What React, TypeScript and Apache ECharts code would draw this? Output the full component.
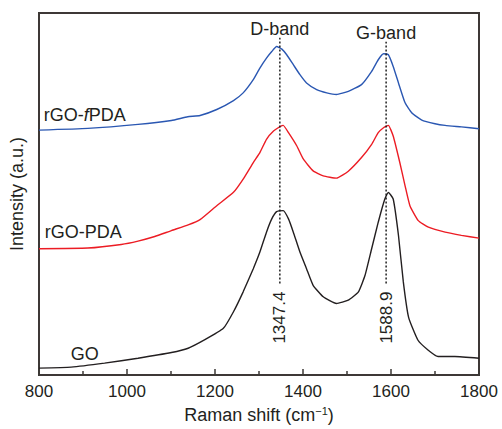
import { useEffect, useRef } from "react";
import * as echarts from "echarts";

// Raman shift (cm-1) and intensity (a.u., stacked offsets)
const fpdaShift = [800, 911, 1025, 1101, 1138, 1166, 1204, 1242, 1264, 1287, 1302, 1317, 1329, 1340, 1352, 1363, 1378, 1393, 1408, 1431, 1454, 1476, 1503, 1533, 1556, 1571, 1583, 1594, 1605, 1617, 1632, 1647, 1670, 1700, 1723, 1760, 1800];
const fpdaIntensity = [246.3, 248, 252, 256, 259.7, 261, 267, 276, 283.7, 297, 308.7, 318.7, 325.3, 330.3, 327.7, 322, 312, 302, 293.7, 287, 283.7, 282, 285.3, 292, 305.3, 317, 323, 322, 310.3, 293.7, 273.7, 263.7, 256.3, 252.7, 251, 249.5, 247.7];

const pdaShift = [800, 911, 987, 1025, 1063, 1101, 1139, 1166, 1204, 1242, 1264, 1287, 1302, 1317, 1333, 1348, 1355, 1367, 1386, 1401, 1423, 1446, 1476, 1503, 1533, 1556, 1571, 1583, 1594, 1605, 1620, 1632, 1643, 1662, 1685, 1723, 1760, 1800];
const pdaIntensity = [127, 127.7, 131.3, 134.7, 139.3, 145.3, 151, 156.3, 170.3, 183.7, 197, 213.7, 223.7, 237, 245.3, 249.7, 251, 243.7, 230.3, 217, 205.3, 200.3, 198, 205, 218.7, 232, 243.7, 248.7, 251, 240.3, 213.7, 190.3, 170.3, 155.3, 148.7, 143.7, 140.5, 137.7];

const goShift = [800, 873, 949, 1025, 1101, 1139, 1176, 1219, 1242, 1264, 1287, 1302, 1317, 1329, 1340, 1355, 1367, 1378, 1393, 1408, 1423, 1446, 1476, 1503, 1526, 1541, 1556, 1571, 1586, 1594, 1605, 1617, 1628, 1640, 1661, 1684, 1707, 1745, 1800];
const goIntensity = [7, 8, 12, 17, 22.7, 27, 35.3, 47, 63.7, 83.7, 107, 123.7, 143.7, 157, 164.3, 165.3, 157, 143.7, 123.7, 107, 90.3, 78.7, 72, 75.3, 83.7, 100.3, 127, 153.7, 177, 183.7, 177, 140.3, 93.7, 58, 35.3, 25.3, 18.7, 18.7, 17];

const bandNames = ["D-band", "G-band"];
const bandPositions = [1347.4, 1588.9];
const bandLineTop = [339, 335];
const bandLineBottom = [92, 92];

const sampleNames = ["rGO-{it|f}PDA", "rGO-PDA", "GO"];
const sampleLabelAt = [
  [811, 261],
  [813, 144],
  [872, 21],
];

const X_MIN = 800;
const X_MAX = 1800;
const X_STEP = 200;
const Y_MIN = 0;
const Y_MAX = 364;

const FONT = "'Liberation Sans', Arial, Helvetica, sans-serif";
const TEXT = "#231f20";
const AXIS = "#3d3836";

const zip = (xs: number[], ys: number[]) => xs.map((x, i) => [x, ys[i]]);

export default function App() {
  const ref = useRef<HTMLDivElement>(null);

  useEffect(() => {
    if (!ref.current) return;
    const chart = echarts.init(ref.current, undefined, { renderer: "svg" });

    const lineSeries = (name: string, data: number[][], color: string) => ({
      name,
      type: "line",
      data,
      showSymbol: false,
      smooth: 0.15,
      lineStyle: { color, width: 1.4 },
      z: 3,
    });

    const bandSeries = bandPositions.map((p, i) => ({
      name: bandNames[i],
      type: "line",
      data: [
        [p, bandLineBottom[i]],
        [p, bandLineTop[i]],
      ],
      showSymbol: false,
      lineStyle: { color: "#111", width: 1.4, type: [2, 2] },
      z: 4,
    }));

    chart.setOption({
      animation: false,
      grid: {
        left: 39,
        right: 23,
        top: 13,
        bottom: 52,
        show: true,
        borderColor: AXIS,
        borderWidth: 2,
      },
      xAxis: {
        type: "value",
        min: X_MIN,
        max: X_MAX,
        interval: X_STEP,
        name: "Raman shift (cm{sup|−1})",
        nameLocation: "middle",
        nameGap: 27,
        nameTextStyle: {
          fontFamily: FONT,
          fontSize: 18,
          color: TEXT,
          rich: {
            sup: { fontFamily: FONT, fontSize: 11, color: TEXT, verticalAlign: "top", lineHeight: 20 },
          },
        },
        axisLine: { show: true, lineStyle: { color: AXIS, width: 2 } },
        axisTick: { show: true, inside: true, length: 6, lineStyle: { color: AXIS, width: 1.5 } },
        minorTick: { show: true, splitNumber: 2, length: 4, lineStyle: { color: AXIS, width: 1.5 } },
        axisLabel: {
          fontFamily: FONT,
          fontSize: 17,
          color: TEXT,
          margin: 8,
          formatter: (v: number) => String(v),
        },
        splitLine: { show: false },
      },
      yAxis: {
        type: "value",
        min: Y_MIN,
        max: Y_MAX,
        name: "Intensity (a.u.)",
        nameLocation: "middle",
        nameGap: 13,
        nameTextStyle: { fontFamily: FONT, fontSize: 18, color: TEXT },
        axisLine: { show: true, lineStyle: { color: AXIS, width: 2 } },
        axisTick: { show: false },
        axisLabel: { show: false },
        splitLine: { show: false },
      },
      series: [
        lineSeries("rGO-fPDA", zip(fpdaShift, fpdaIntensity), "#2a57b2"),
        lineSeries("rGO-PDA", zip(pdaShift, pdaIntensity), "#ec1c24"),
        lineSeries("GO", zip(goShift, goIntensity), "#231f20"),
        ...bandSeries,
      ],
    });

    const px = (x: number, y: number) =>
      chart.convertToPixel({ xAxisIndex: 0, yAxisIndex: 0 }, [x, y]) as number[];

    const graphics: any[] = [];
    bandPositions.forEach((p, i) => {
      const top = px(p, bandLineTop[i]);
      const bottom = px(p, bandLineBottom[i]);
      graphics.push({
        type: "text",
        x: top[0],
        y: top[1] - 9,
        style: {
          text: bandNames[i],
          fontFamily: FONT,
          fontSize: 18,
          fill: TEXT,
          align: "center",
          verticalAlign: "middle",
        },
      });
      graphics.push({
        type: "text",
        x: bottom[0],
        y: bottom[1] + 34,
        rotation: Math.PI / 2,
        style: {
          text: p.toFixed(1),
          fontFamily: FONT,
          fontSize: 17,
          fill: TEXT,
          align: "center",
          verticalAlign: "middle",
        },
      });
    });
    sampleNames.forEach((n, i) => {
      const pt = px(sampleLabelAt[i][0], sampleLabelAt[i][1]);
      graphics.push({
        type: "text",
        x: pt[0],
        y: pt[1],
        style: {
          text: n,
          fontFamily: FONT,
          fontSize: 18,
          fill: TEXT,
          align: "left",
          verticalAlign: "middle",
          rich: {
            it: { fontFamily: FONT, fontSize: 18, fill: TEXT, fontStyle: "italic" },
          },
        },
      });
    });
    chart.setOption({ graphic: graphics });

    return () => chart.dispose();
  }, []);

  return (
    <div
      ref={ref}
      style={{ position: "fixed", left: 0, top: 0, width: 502, height: 429, background: "#fff" }}
    />
  );
}
